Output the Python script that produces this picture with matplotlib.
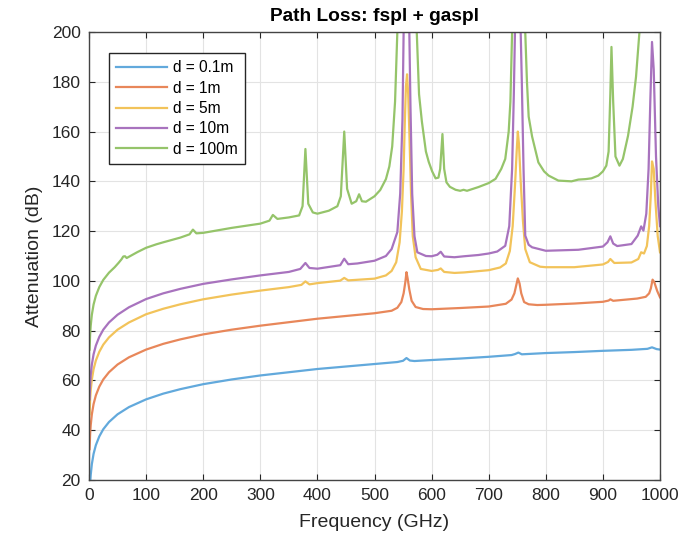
import matplotlib
matplotlib.use("Agg")
import matplotlib.pyplot as plt

# ---------------- data ----------------
f_b = [1, 2, 3, 5, 8, 12, 18, 25, 35, 50, 70, 100, 130, 160, 200, 250, 300, 350, 400, 450,
       500, 540, 550, 556, 562, 570, 600, 650, 700, 740, 746, 752, 758, 800, 850, 900, 950, 978, 986, 994, 1000]
L_b = [12.4, 18.5, 22.0, 26.4, 30.5, 34.0, 37.5, 40.4, 43.3, 46.4, 49.3, 52.4, 54.7, 56.5, 58.5, 60.4, 62.0, 63.3, 64.6, 65.6,
       66.6, 67.4, 67.9, 69.0, 68.0, 67.8, 68.2, 68.8, 69.5, 70.2, 70.6, 71.2, 70.5, 71.0, 71.4, 71.9, 72.3, 72.7, 73.3, 72.6, 72.4]

f_o = [1, 2, 3, 5, 8, 12, 18, 25, 35, 50, 70, 100, 130, 160, 200, 250, 300, 350, 400, 450,
       500, 530, 540, 547, 551, 554, 556, 558, 561, 565, 572, 585, 600, 650, 700, 730, 740, 745, 748, 751,
       754, 757, 762, 770, 785, 800, 850, 900, 910, 913, 918, 960, 975, 981, 984, 987, 990, 995, 1000]
L_o = [32.4, 38.5, 42.0, 46.4, 50.5, 54.0, 57.5, 60.4, 63.3, 66.4, 69.3, 72.4, 74.7, 76.5, 78.5, 80.4, 82.0, 83.4, 84.8, 85.9,
       87.0, 88.0, 89.2, 91.5, 95.0, 99.5, 103.5, 101.0, 96.5, 92.0, 89.5, 88.7, 88.6, 89.1, 89.7, 90.8, 92.5, 95.0, 98.0, 101.0,
       99.0, 95.0, 91.5, 90.6, 90.3, 90.4, 90.9, 91.6, 92.1, 92.6, 92.0, 92.9, 93.6, 95.0, 97.0, 100.5, 99.5, 96.0, 93.4]

f_y = [1, 2, 3, 5, 8, 12, 18, 25, 35, 50, 70, 100, 130, 160, 200, 250, 300, 350, 372, 379,
       386, 400, 440, 447, 454, 500, 520, 530, 538, 544, 548, 551, 553, 555, 557, 559, 561, 564, 567, 572,
       581, 600, 611, 616, 622, 640, 657, 700, 720, 730, 737, 742, 746, 749, 751, 753, 756, 760, 764, 772,
       790, 800, 850, 900, 909, 913, 920, 950, 962, 967, 972, 977, 981, 984, 986, 989, 992, 996, 1000]
L_y = [46.4, 52.5, 56.0, 60.4, 64.5, 68.0, 71.5, 74.4, 77.3, 80.4, 83.3, 86.6, 88.8, 90.6, 92.6, 94.5, 96.1, 97.5, 98.4, 99.8,
       98.6, 99.1, 100.1, 101.2, 100.2, 100.9, 102.2, 104.0, 107.5, 115.5, 128, 145, 163, 178, 183, 175, 160, 135, 118, 109.5,
       104.8, 104.0, 104.4, 105.0, 103.6, 103.2, 103.4, 104.3, 105.4, 107.0, 112.0, 122, 138, 152, 160, 155, 140, 124, 112.8, 107.5,
       105.7, 105.5, 105.5, 106.6, 107.6, 108.8, 107.2, 107.4, 108.8, 111.5, 111.0, 114.0, 122, 135, 148, 145, 132, 118, 111.5]

f_p = [1, 2, 3, 5, 8, 12, 18, 25, 35, 50, 70, 100, 130, 160, 200, 250, 300, 350, 370, 379,
       386, 400, 440, 447, 454, 470, 500, 520, 530, 540, 545, 549, 551, 556, 561, 563, 566, 570, 575, 590,
       600, 610, 616, 622, 640, 657, 682, 700, 715, 729, 736, 741, 744, 746, 751, 756, 758, 761, 764, 770,
       776, 800, 857, 900, 908, 913, 918, 925, 950, 961, 967, 971, 976, 980, 983, 986, 989, 993, 997, 1000]
L_p = [52.4, 58.5, 62.0, 66.4, 70.5, 74.0, 77.5, 80.4, 83.3, 86.4, 89.4, 92.7, 95.0, 96.8, 98.8, 100.6, 102.2, 103.6, 104.8, 107.2,
       105.2, 104.9, 106.3, 108.9, 106.7, 107.0, 108.1, 110.0, 112.8, 119.6, 135, 165, 200, 260, 200, 170, 135, 118, 111.5, 110.0,
       109.9, 110.5, 111.7, 109.8, 109.5, 109.9, 110.4, 111.0, 111.8, 114.1, 122, 145, 175, 200, 250, 200, 180, 145, 118.2, 114.5,
       113.5, 112.1, 112.5, 113.8, 115.5, 117.9, 115.0, 114.0, 114.8, 118.2, 121.9, 120.2, 127, 145, 172, 196, 185, 150, 130, 122]

f_g = [1, 2, 3, 5, 8, 12, 18, 25, 35, 45, 52, 57, 60, 63, 66, 70, 85, 100, 118, 130,
       160, 176, 182, 188, 200, 250, 300, 316, 322, 330, 350, 368, 374, 379, 384, 392, 400, 420, 435, 441,
       447, 452, 460, 468, 473, 478, 485, 500, 510, 520, 526, 531, 536, 540, 556, 574, 578, 583, 590, 595,
       601, 607, 612, 615, 619, 622, 626, 632, 642, 650, 656, 662, 682, 700, 712, 722, 729, 735, 738, 741,
       752, 764, 767, 770, 776, 787, 797, 805, 822, 845, 857, 870, 880, 892, 900, 906, 910, 913, 915, 918,
       922, 929, 935, 944, 952, 958, 964, 980, 1000]
L_g = [72.4, 78.5, 82.0, 86.4, 90.5, 94.0, 97.5, 100.4, 103.3, 105.5, 107.3, 108.7, 109.8, 109.9, 109.2, 109.7, 111.6, 113.3, 114.7, 115.5,
       117.4, 118.7, 120.6, 119.1, 119.3, 121.3, 123.0, 124.2, 126.5, 124.9, 125.5, 126.3, 130, 153, 131, 127.5, 127.0, 128.2, 130.0, 134,
       160, 137, 131, 132, 134.8, 132, 131.8, 134.0, 136.5, 140.9, 146, 154, 172, 200, 300, 200, 175, 164, 152, 147.8,
       144, 141.2, 141.5, 145, 159, 145, 139.6, 137.8, 136.6, 136.2, 136.6, 136.2, 137.7, 139.3, 141.0, 145, 149, 160, 172, 200,
       290, 200, 180, 166, 158, 147.6, 144, 142.3, 140.3, 140.0, 140.7, 140.9, 141.2, 142.3, 144, 146.3, 152, 175, 194, 172,
       150, 146.3, 149, 158.3, 170, 182, 200, 260, 280]

labels = ["d = 0.1m", "d = 1m", "d = 5m", "d = 10m", "d = 100m"]
colors = ["#62a9dc", "#e8875a", "#f2c35a", "#a873be", "#95c46a"]
xticks = list(range(0, 1001, 100))
yticks = list(range(20, 201, 20))

# ---------------- figure ----------------
plt.rcParams["font.family"] = ["Liberation Sans", "DejaVu Sans"]
fig = plt.figure(figsize=(7.0, 5.38), dpi=100)
ax = fig.add_axes([89 / 700, 58 / 538, 571 / 700, 448 / 538])

series = [(f_b, L_b), (f_o, L_o), (f_y, L_y), (f_p, L_p), (f_g, L_g)]
for (fx, ly), lab, col in zip(series, labels, colors):
    ax.plot(fx, ly, color=col, lw=1.6, label=lab, solid_joinstyle="round")

ax.set_xlim(0, 1000)
ax.set_ylim(20, 200)
ax.set_xticks(xticks)
ax.set_yticks(yticks)
ax.grid(True, color="#e3e3e3", lw=0.8)
ax.set_axisbelow(True)
ax.tick_params(direction="in", length=4, width=0.8, colors="#262626", labelsize=12.5,
               top=True, right=True, pad=6)
for s in ax.spines.values():
    s.set_color("#444444")
    s.set_linewidth(1.0)

ax.set_title("Path Loss: fspl + gaspl", fontsize=13.8, fontweight="bold", pad=8)
ax.set_xlabel("Frequency (GHz)", fontsize=14, color="#262626")
ax.set_ylabel("Attenuation (dB)", fontsize=14, color="#262626")
ax.xaxis.set_label_coords(0.5, -0.075)
ax.yaxis.set_label_coords(-0.08, 0.5)

leg = ax.legend(loc="upper left", bbox_to_anchor=(0.035, 0.953), fontsize=11.2,
                frameon=True, fancybox=False, framealpha=1, edgecolor="#262626",
                handlelength=3.3, handletextpad=0.35, labelspacing=0.35, borderpad=0.45,
                borderaxespad=0)
leg.get_frame().set_linewidth(1.0)

fig.savefig("out.png", dpi=100)
